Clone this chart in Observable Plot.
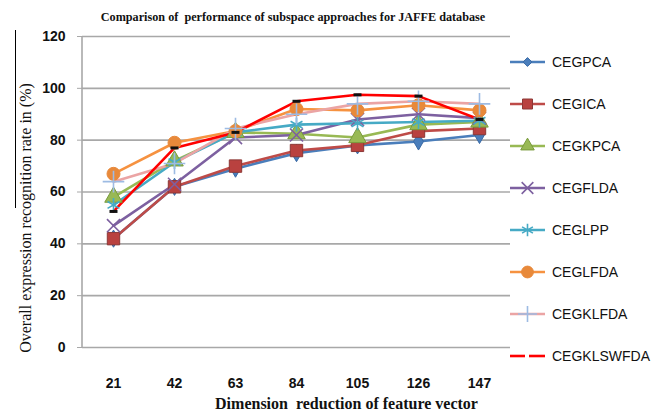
<!DOCTYPE html>
<html><head><meta charset="utf-8">
<script src="https://cdn.jsdelivr.net/npm/d3@7"></script>
<script src="https://cdn.jsdelivr.net/npm/@observablehq/plot@0.6"></script>
<style>
body{margin:0;background:#fff;width:667px;height:412px;overflow:hidden;position:relative;font-family:"Liberation Sans",sans-serif;}
#title{height:30px;box-sizing:border-box;padding-top:9px;font:bold 12.2px/16px "Liberation Serif",serif;text-align:center;width:586px;color:#111;}
#legend{position:absolute;left:508px;top:0;}
.item{position:absolute;left:0;height:20px;display:flex;align-items:center;white-space:nowrap;font-size:14px;color:#111;}
.item svg{margin-right:6px}
#bar{position:absolute;left:15px;top:30px;width:1px;height:178px;background:#000;}
</style></head>
<body>
<div id="title">Comparison of&nbsp; performance of subspace approaches for JAFFE database</div>
<div id="chart"></div>
<div id="legend"></div>
<div id="bar"></div>
<script>
const dims = [21, 42, 63, 84, 105, 126, 147];
const seriesNames = ["CEGPCA","CEGICA","CEGKPCA","CEGFLDA","CEGLPP","CEGLFDA","CEGKLFDA","CEGKLSWFDA"];
const CEGPCA     = [42, 62, 69, 75, 78, 79.5, 82];
const CEGICA     = [42, 62, 70, 76, 78, 83.5, 84.5];
const CEGKPCA    = [58, 72, 83, 82.5, 81, 86, 87];
const CEGFLDA    = [47, 63, 81, 82, 88, 90, 88.5];
const CEGLPP     = [55, 71.5, 83, 86, 86.5, 87, 87.5];
const CEGLFDA    = [67, 79, 83.5, 92, 91.5, 93.5, 91.5];
const CEGKLFDA   = [64, 71, 84.5, 90, 94, 95, 94];
const CEGKLSWFDA = [52.5, 77, 83, 95, 97.5, 97, 88];
const yTicks = [0, 20, 40, 60, 80, 100, 120];

const values = [CEGPCA, CEGICA, CEGKPCA, CEGFLDA, CEGLPP, CEGLFDA, CEGKLFDA, CEGKLSWFDA];

const dashSymbol = {draw(ctx, size){ const w = 4, h = 1.5; ctx.moveTo(-w,-h); ctx.lineTo(w,-h); ctx.lineTo(w,h); ctx.lineTo(-w,h); ctx.closePath(); }};

const styles = [
  {line:"#4A7EBB", fill:"#4A7EBB", stroke:"#3A6AA5", symbol:"diamond", r:5.2},
  {line:"#BE4B48", fill:"#B9413F", stroke:"#8C3836", symbol:"square", r:7},
  {line:"#98B954", fill:"#98B954", stroke:"#789A3C", symbol:"triangle", r:6.5},
  {line:"#7D60A0", fill:"none", stroke:"#7D60A0", symbol:"times", r:6},
  {line:"#46AAC5", fill:"none", stroke:"#46AAC5", symbol:"asterisk", r:6.5},
  {line:"#F69240", fill:"#E8893A", stroke:"#E8893A", symbol:"circle", r:6.5},
  {line:"#EBA4A4", fill:"none", stroke:"#9DBBE3", symbol:"plus", r:7},
  {line:"#FF0000", fill:"#111", stroke:"none", symbol:dashSymbol, r:4}
];

const data = [];
seriesNames.forEach((s, i) => values[i].forEach((v, j) => data.push({series: s, dim: dims[j], v})));

const leftAxisLine = (index, scales, vals, dim) => {
  const d = dim || {marginLeft:82, marginTop:6, height:382, marginBottom:65};
  return d3.create("svg:line")
    .attr("x1", d.marginLeft).attr("x2", d.marginLeft)
    .attr("y1", d.marginTop).attr("y2", d.height - d.marginBottom)
    .attr("stroke", "#A8A8A8").attr("stroke-width", 1.6).node();
};

const marks = [
  Plot.gridY(yTicks, {stroke:"#A8A8A8", strokeOpacity:1, strokeWidth:1.6}),
  leftAxisLine,
];
seriesNames.forEach((s, i) => {
  const st = styles[i];
  const d = data.filter(e => e.series === s);
  marks.push(Plot.line(d, {x:"dim", y:"v", stroke:st.line, strokeWidth:2.6}));
});
seriesNames.forEach((s, i) => {
  const st = styles[i];
  const d = data.filter(e => e.series === s);
  marks.push(Plot.dot(d, {x:"dim", y:"v", symbol:()=>st.symbol, r:st.r, fill:st.fill, stroke:st.stroke, strokeWidth: st.fill==="none"?1.6:1}));
});
marks.push(Plot.axisY(yTicks, {tickSize:5, tickPadding:12, stroke:"#A8A8A8", fontSize:14, fontWeight:"bold", fill:"#111", label:null}));
marks.push(Plot.axisX({tickSize:0, tickPadding:31, fontSize:14, fontWeight:"bold", fill:"#111", label:null}));
marks.push(Plot.text(["Overall expression recognition rate in (%)"], {frameAnchor:"left", textAnchor:"middle", dx:-57, dy:26, rotate:-90, fontSize:16, fontFamily:"Liberation Serif", fill:"#111"}));
marks.push(Plot.text(["Dimension  reduction of feature vector"], {frameAnchor:"bottom", dx:50, dy:61, fontSize:16, fontFamily:"Liberation Serif", fontWeight:"bold", fill:"#111"}));

const chart = Plot.plot({
  width: 667, height: 382,
  marginLeft: 82, marginRight: 157, marginTop: 6, marginBottom: 65,
  x: {type:"point", domain: dims, padding: 0.5},
  y: {domain:[0,120]},
  symbol: {type:"identity"},
  style: {fontFamily:"Liberation Sans, sans-serif", background:"#fff", overflow:"visible"},
  marks
});
document.getElementById("chart").appendChild(chart);

// legend
const legend = document.getElementById("legend");
const legendY = [62, 104, 146, 188, 230, 272, 314, 356];
seriesNames.forEach((s, i) => {
  const st = styles[i];
  const div = document.createElement("div");
  div.className = "item";
  div.style.top = (legendY[i] - 10) + "px";
  const sw = d3.create("svg").attr("width", 38).attr("height", 16);
  if (i === 7) {
    sw.append("line").attr("x1",2).attr("x2",17).attr("y1",8).attr("y2",8).attr("stroke",st.line).attr("stroke-width",2.6);
    sw.append("line").attr("x1",21).attr("x2",37).attr("y1",8).attr("y2",8).attr("stroke",st.line).attr("stroke-width",2.6);
  } else {
    sw.append("line").attr("x1",2).attr("x2",37).attr("y1",8).attr("y2",8).attr("stroke",st.line).attr("stroke-width",2.6);
    const sym = {diamond:d3.symbolDiamond2, square:d3.symbolSquare, triangle:d3.symbolTriangle, times:d3.symbolTimes, asterisk:d3.symbolAsterisk, circle:d3.symbolCircle, plus:d3.symbolPlus}[st.symbol];
    const sz = {diamond: 50, square: 100, triangle: 80, times: 90, asterisk: 110, circle: 110, plus: 120}[st.symbol];
    sw.append("path").attr("d", d3.symbol(sym, sz)()).attr("transform","translate(19.5,8)")
      .attr("fill", st.fill).attr("stroke", st.stroke).attr("stroke-width", st.fill==="none"?1.6:1);
  }
  div.appendChild(sw.node());
  const t = document.createElement("span"); t.textContent = s; div.appendChild(t);
  legend.appendChild(div);
});
</script>
</body></html>
